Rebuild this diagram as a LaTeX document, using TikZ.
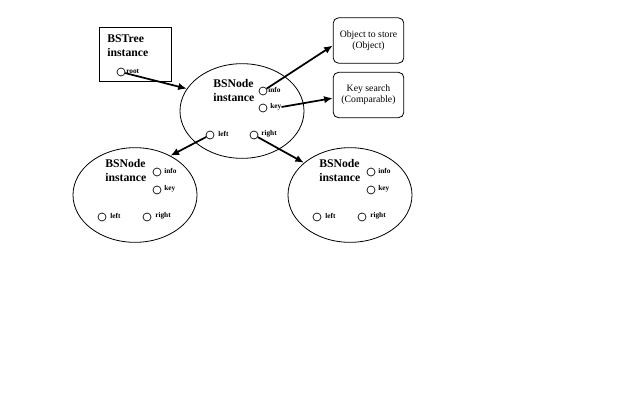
\documentclass[tikz,border=0pt]{standalone}
\usepackage{fontspec}
\setmainfont{Liberation Serif}
\usetikzlibrary{arrows.meta,shapes.geometric}
\begin{document}
\begin{tikzpicture}[x=0.75pt,y=-0.75pt,
  title/.style={font=\fontsize{8.8}{10.5}\selectfont\bfseries,align=left,inner sep=0pt,anchor=west},
  slot/.style={circle,draw,line width=0.5pt,minimum size=6pt,inner sep=0pt},
  lab/.style={font=\fontsize{5.5}{6}\selectfont\bfseries,inner sep=0pt,anchor=west},
  obj/.style={ellipse,draw,line width=0.6pt,minimum width=93pt,minimum height=71pt,inner sep=0pt},
  tbox/.style={draw,rounded corners=4pt,line width=0.6pt,minimum width=53pt,minimum height=34pt,align=center,font=\fontsize{7.3}{8.2}\selectfont,inner sep=0pt},
  ptr/.style={line width=1.3pt,-{Latex[length=6.5pt,width=5.5pt]}}]
\useasboundingbox (0,0) rectangle (640,400);
\fill[white] (0,0) rectangle (640,400);
% BSTree box
\node[draw,line width=0.6pt,minimum width=54pt,minimum height=40.5pt,inner sep=0pt] (tree) at (135,54) {};
\node[title] (treet) at (107,45.5) {BSTree\\instance};
\node[slot] (root) at (121,72) {};
\node[lab] (rootl) at (126,71) {root};
% middle node
\node[obj] (mid) at (242,111) {};
\node[title] (midt) at (213,90) {BSNode\\instance};
\node[slot] (minfo) at (263,91) {};
\node[lab] (minfol) at (268,90) {info};
\node[slot] (mkey) at (263,108) {};
\node[lab] (mkeyl) at (270,107) {key};
\node[slot] (mleft) at (210,135) {};
\node[lab] (mleftl) at (218,134) {left};
\node[slot] (mright) at (254,135) {};
\node[lab] (mrightl) at (261,134) {right};
% left node
\node[obj] (lell) at (135,195) {};
\node[title] (lt) at (105,170.5) {BSNode\\instance};
\node[slot] (linfo) at (157,172) {};
\node[lab] (linfol) at (164,171) {info};
\node[slot] (lkey) at (157,190) {};
\node[lab] (lkeyl) at (164,189) {key};
\node[slot] (lleft) at (102,217) {};
\node[lab] (lleftl) at (110,216) {left};
\node[slot] (lright) at (147,217) {};
\node[lab] (lrightl) at (155,216) {right};
% right node
\node[obj] (rell) at (350,195) {};
\node[title] (rt) at (319,170.5) {BSNode\\instance};
\node[slot] (rinfo) at (371,172) {};
\node[lab] (rinfol) at (378,171) {info};
\node[slot] (rkey) at (371,190) {};
\node[lab] (rkeyl) at (378,189) {key};
\node[slot] (rleft) at (317,217) {};
\node[lab] (rleftl) at (325,216) {left};
\node[slot] (rright) at (362,217) {};
\node[lab] (rrightl) at (370,216) {right};
% boxes
\node[tbox] (objbox) at (368.5,40.5) {Object to store\\(Object)};
\node[tbox] (keybox) at (368.5,95) {Key search\\(Comparable)};
% pointers
\draw[ptr] (root) -- (mid.158);
\draw[ptr] (minfo) -- (objbox.188);
\draw[ptr] (mkeyl.east) -- (keybox.185);
\draw[ptr] (mleft) -- (lell.48);
\draw[ptr] (mright) -- (rell.145);
\end{tikzpicture}
\end{document}
